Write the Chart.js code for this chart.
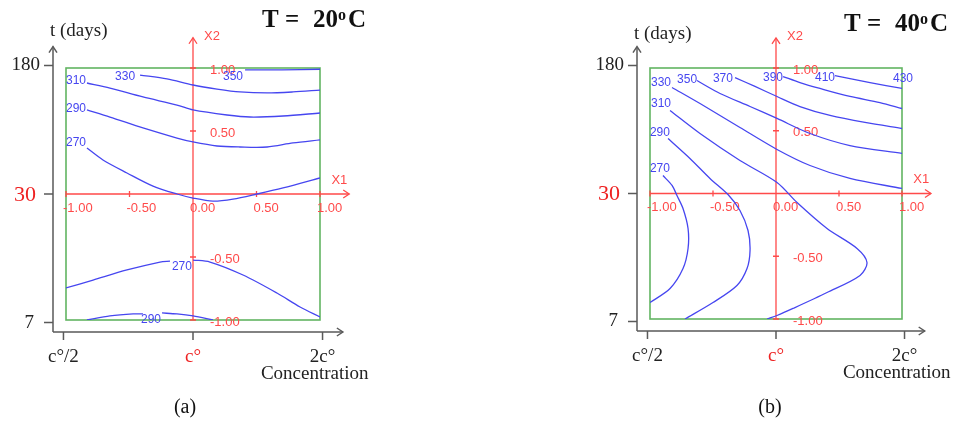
<!DOCTYPE html>
<html>
<head>
<meta charset="utf-8">
<title>Contour plots</title>
<script src="https://cdn.jsdelivr.net/npm/chart.js@4.4.1/dist/chart.umd.min.js"></script>
<style>
  body { margin: 0; background: #fff; }
  #wrap { position: relative; width: 955px; height: 423px; }
  canvas { position: absolute; top: 0; }
  #chartA { left: 0; }
  #chartB { left: 475px; }
</style>
</head>
<body>
<div id="wrap">
  <canvas id="chartA" width="475" height="423"></canvas>
  <canvas id="chartB" width="480" height="423"></canvas>
</div>
<script>
// coded axes (X1 = concentration, X2 = time), both -1..1
var codedTicks = [-1, -0.5, 0, 0.5, 1];
var codedLabels = ['-1.00', '-0.50', '0.00', '0.50', '1.00'];
var concTicks = [-1.02, 0, 1.02];
var concLabels = ['c°/2', 'c°', '2c°'];
var timeTicks = [-1.02, 0, 1.02];
var timeLabels = ['7', '30', '180'];

// T = 20 °C : contour lines as [X1, X2]
var line20_350 = [[0.41, 0.985], [0.7, 0.985], [1, 0.99]];
var line20_330 = [[-0.417, 0.944], [-0.205, 0.913], [0, 0.865], [0.189, 0.833], [0.37, 0.81], [0.583, 0.802], [0.787, 0.81], [1, 0.825]];
var line20_310 = [[-0.835, 0.881], [-0.654, 0.841], [-0.394, 0.77], [-0.126, 0.706], [0, 0.667], [0.268, 0.627], [0.449, 0.611], [0.709, 0.619], [1, 0.643]];
var line20_290 = [[-0.835, 0.667], [-0.654, 0.611], [-0.394, 0.524], [-0.126, 0.444], [0, 0.413], [0.189, 0.381], [0.37, 0.373], [0.583, 0.373], [0.787, 0.405], [1, 0.429]];
var line20_270 = [[-0.835, 0.365], [-0.709, 0.27], [-0.52, 0.167], [-0.315, 0.063], [-0.126, 0], [0, -0.032], [0.157, -0.056], [0.315, -0.04], [0.504, 0], [0.709, 0.048], [1, 0.127]];
var line20_270low = [[-1, -0.746], [-0.787, -0.683], [-0.52, -0.603], [-0.26, -0.54], [-0.181, -0.532], null, [0, -0.524], [0.134, -0.54], [0.394, -0.643], [0.661, -0.786], [0.843, -0.897], [1, -0.976]];
var line20_290low = [[-0.835, -1], [-0.654, -0.968], [-0.472, -0.952], [-0.394, -0.952], null, [-0.244, -0.944], [-0.126, -0.952], [0, -0.968], [0.157, -1]];
var tags20 = [['350', 0.315, 0.929], ['330', -0.535, 0.929], ['310', -0.921, 0.897], ['290', -0.921, 0.675],
              ['270', -0.921, 0.405], ['270', -0.087, -0.579], ['290', -0.331, -1.0]];

// T = 40 °C
var line40_410 = [[0.468, 0.94], [0.587, 0.916], [0.746, 0.884], [1, 0.837]];
var line40_390 = [[0.056, 0.932], [0.19, 0.884], [0.349, 0.837], [0.587, 0.773], [0.825, 0.725], [1, 0.677]];
var line40_370 = [[-0.325, 0.924], [-0.167, 0.853], [0.008, 0.773], [0.19, 0.693], [0.429, 0.622], [0.706, 0.566], [1, 0.518]];
var line40_350 = [[-0.627, 0.9], [-0.444, 0.797], [-0.206, 0.693], [0.008, 0.598], [0.27, 0.478], [0.587, 0.382], [1, 0.319]];
var line40_330 = [[-0.825, 0.845], [-0.603, 0.717], [-0.286, 0.526], [0.008, 0.351], [0.27, 0.223], [0.587, 0.12], [1, 0.04]];
var line40_310 = [[-0.841, 0.661], [-0.603, 0.478], [-0.286, 0.263], [0.008, 0.088], [0.167, -0.072], [0.405, -0.279], [0.643, -0.438],
                  [0.722, -0.55], [0.667, -0.653], [0.405, -0.789], [0.135, -0.916], [0.008, -0.972], [-0.071, -1]];
var line40_290 = [[-0.857, 0.438], [-0.683, 0.279], [-0.524, 0.12], [-0.381, -0.008], [-0.286, -0.135], [-0.222, -0.295], [-0.206, -0.454],
                  [-0.23, -0.598], [-0.31, -0.733], [-0.5, -0.869], [-0.722, -1]];
var line40_270 = [[-0.897, 0.143], [-0.825, 0.064], [-0.786, -0.016], [-0.738, -0.12], [-0.698, -0.279], [-0.698, -0.438],
                  [-0.738, -0.598], [-0.841, -0.757], [-1, -0.869]];
var tags40 = [['330', -0.913, 0.884], ['310', -0.913, 0.717], ['290', -0.921, 0.486], ['270', -0.921, 0.199], ['350', -0.706, 0.908],
              ['370', -0.421, 0.916], ['390', -0.024, 0.924], ['410', 0.389, 0.924], ['430', 1.008, 0.916]];

var BLUE = '#4646f0', RED = '#ff4a4a', GREEN = '#62b562', AXIS = '#5a5a5a';

function toPoints(arr) {
  return arr.map(function (p) { return p ? { x: p[0], y: p[1] } : { x: null, y: null }; });
}

function chevron(ctx, x, y, dir) {
  ctx.beginPath();
  if (dir === 'up') { ctx.moveTo(x - 4, y + 6); ctx.lineTo(x, y); ctx.lineTo(x + 4, y + 6); }
  else { ctx.moveTo(x - 6, y - 4); ctx.lineTo(x, y); ctx.lineTo(x - 6, y + 4); }
  ctx.stroke();
}

function framePlugin(panel) {
  return {
    id: 'frame',
    beforeDatasetsDraw: function (chart) {
      var ctx = chart.ctx, a = chart.chartArea;
      var X = function (v) { return chart.scales.x.getPixelForValue(v); };
      var Y = function (v) { return chart.scales.y.getPixelForValue(v); };
      ctx.save();

      // outer black axes
      var ax = X(-1) - 13, ay = Y(-1) + 12;
      ctx.strokeStyle = AXIS; ctx.lineWidth = 1.5;
      ctx.beginPath();
      ctx.moveTo(ax, ay); ctx.lineTo(ax, Y(1.17));
      ctx.moveTo(ax, ay); ctx.lineTo(X(1.18), ay);
      ctx.stroke();
      chevron(ctx, ax, Y(1.17), 'up');
      chevron(ctx, X(1.18), ay, 'right');
      ctx.beginPath();
      timeTicks.forEach(function (v) { ctx.moveTo(ax - 9, Y(v)); ctx.lineTo(ax, Y(v)); });
      concTicks.forEach(function (v) { ctx.moveTo(X(v), ay); ctx.lineTo(X(v), ay + 8); });
      ctx.stroke();

      ctx.textBaseline = 'middle';
      ctx.textAlign = 'right';
      timeTicks.forEach(function (v, i) {
        if (i === 1) {
          ctx.fillStyle = '#ee2222';
          ctx.font = '22px "Liberation Serif"';
          ctx.fillText(timeLabels[i], ax - 17, Y(v) + 1);
        } else {
          ctx.fillStyle = '#222';
          ctx.font = '19px "Liberation Serif"';
          ctx.fillText(timeLabels[i], ax - (i === 0 ? 19 : 13), Y(v));
        }
      });
      ctx.font = '19px "Liberation Serif"';
      ctx.textAlign = 'center';
      concTicks.forEach(function (v, i) {
        ctx.fillStyle = i === 1 ? '#ee2222' : '#222';
        ctx.fillText(concLabels[i], X(v), ay + 25);
      });
      ctx.fillStyle = '#222';
      ctx.textAlign = 'right';
      ctx.fillText('Concentration', X(1.02) + 46, ay + 42);
      ctx.textAlign = 'left';
      ctx.fillText('t (days)', ax - 3, panel.daysY);

      // title
      var tr = a.right + 52, ty = panel.titleY;
      ctx.fillStyle = '#111';
      ctx.font = 'bold 25px "Liberation Serif"';
      ctx.fillText('T =', tr - 110, ty);
      ctx.fillText(panel.temp, tr - 59, ty);
      ctx.fillText('C', tr - 24, ty);
      ctx.font = 'bold 16px "Liberation Serif"';
      ctx.fillText('o', tr - 34, ty - 5);

      // green design domain
      ctx.strokeStyle = GREEN; ctx.lineWidth = 1.6;
      ctx.strokeRect(a.left, a.top, a.right - a.left, a.bottom - a.top);

      // red coded axes
      ctx.strokeStyle = RED; ctx.lineWidth = 1.3;
      ctx.beginPath();
      ctx.moveTo(X(-1), Y(0)); ctx.lineTo(X(1.23), Y(0));
      ctx.moveTo(X(0), Y(-1)); ctx.lineTo(X(0), Y(1.24));
      codedTicks.forEach(function (v) {
        if (v === 0) return;
        ctx.moveTo(X(v), Y(0) - 3); ctx.lineTo(X(v), Y(0) + 3);
        ctx.moveTo(X(0) - 3, Y(v)); ctx.lineTo(X(0) + 3, Y(v));
      });
      ctx.stroke();
      chevron(ctx, X(0), Y(1.24), 'up');
      chevron(ctx, X(1.23), Y(0), 'right');

      ctx.fillStyle = RED;
      ctx.font = '13px "Liberation Sans"';
      ctx.textAlign = 'left';
      codedTicks.forEach(function (v, i) {
        ctx.fillText(codedLabels[i], X(v) - 3, Y(0) + 14);
        if (v !== 0) ctx.fillText(codedLabels[i], X(0) + 17, Y(v) + 2);
      });
      ctx.fillText('X1', X(1.09), Y(0) - 14);
      ctx.fillText('X2', X(0) + 11, a.top - 32);
      ctx.restore();
    },
    afterDatasetsDraw: function (chart) {
      var ctx = chart.ctx;
      ctx.save();
      ctx.fillStyle = BLUE;
      ctx.font = '12px "Liberation Sans"';
      ctx.textAlign = 'center';
      ctx.textBaseline = 'middle';
      panel.tags.forEach(function (t) {
        ctx.fillText(t[0], chart.scales.x.getPixelForValue(t[1]), chart.scales.y.getPixelForValue(t[2]));
      });
      ctx.font = '20px "Liberation Serif"';
      ctx.fillStyle = '#111';
      ctx.fillText(panel.caption, panel.captionX, 408);
      ctx.restore();
    }
  };
}

function makeChart(id, panel) {
  return new Chart(document.getElementById(id), {
    type: 'scatter',
    data: {
      datasets: panel.lines.map(function (l) {
        return {
          data: toPoints(l),
          showLine: true,
          borderColor: BLUE,
          borderWidth: 1.3,
          pointRadius: 0,
          tension: 0.3,
          spanGaps: false
        };
      })
    },
    options: {
      responsive: false,
      animation: false,
      layout: { padding: panel.padding },
      plugins: { legend: { display: false }, tooltip: { enabled: false } },
      scales: {
        x: { type: 'linear', min: -1, max: 1, display: false },
        y: { type: 'linear', min: -1, max: 1, display: false }
      }
    },
    plugins: [framePlugin(panel)]
  });
}

makeChart('chartA', {
  temp: '20', titleY: 21, daysY: 31, caption: '(a)', captionX: 185,
  padding: { left: 66, top: 68, right: 155, bottom: 103 },
  lines: [line20_350, line20_330, line20_310, line20_290, line20_270, line20_270low, line20_290low],
  tags: tags20
});
makeChart('chartB', {
  temp: '40', titleY: 25, daysY: 34, caption: '(b)', captionX: 295,
  padding: { left: 175, top: 68, right: 53, bottom: 104 },
  lines: [line40_410, line40_390, line40_370, line40_350, line40_330, line40_310, line40_290, line40_270],
  tags: tags40
});
</script>
</body>
</html>
